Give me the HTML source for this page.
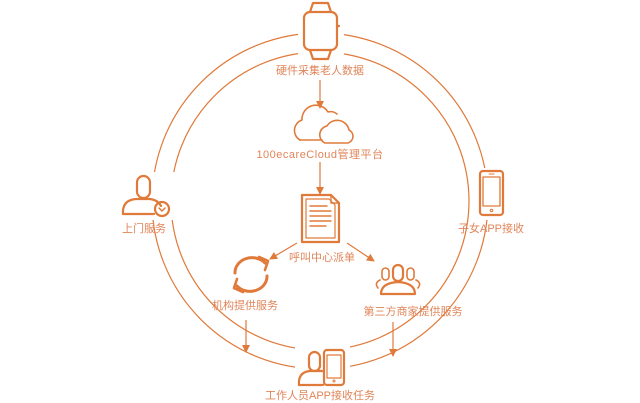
<!DOCTYPE html>
<html><head><meta charset="utf-8">
<style>
html,body{margin:0;padding:0;background:#fff;}
svg{display:block}
text{font-family:"Liberation Sans","Noto Sans CJK SC",sans-serif;font-size:11px;fill:#e0855a;}
</style></head><body>
<svg width="640" height="403" viewBox="0 0 640 403" xmlns="http://www.w3.org/2000/svg">
<defs>
<marker id="ah" markerWidth="8" markerHeight="8" refX="7" refY="4" orient="auto" markerUnits="userSpaceOnUse">
<path d="M0,0 L8,4 L0,8 Z" fill="#e07a3a"/>
</marker>
</defs>
<g fill="none" stroke="#e07a3a" stroke-width="1.2">
<circle cx="320" cy="201" r="168"/>
<circle cx="320" cy="201" r="149"/>
</g>
<g fill="#fff">
<rect x="298" y="0" width="46" height="62"/>
<rect x="115" y="172" width="66" height="48"/>
<rect x="474" y="168" width="34" height="52"/>
<rect x="295" y="345" width="55" height="44"/>
<rect x="250" y="387" width="140" height="16"/>
</g>
<g fill="none" stroke="#e07a3a" stroke-width="2.2" stroke-linejoin="round" stroke-linecap="round">
<path d="M310,12 L313,3 L328,3 L331,12"/>
<path d="M310,50 L313,59 L328,59 L331,50"/>
<rect x="304" y="12" width="33" height="38" rx="6"/>
<path d="M337,26 L339,26"/>
<path d="M300,140 a11,11 0 0 1 2,-20 a14,14 0 0 1 26,-8 a10,10 0 0 1 9,2" stroke-width="1.6"/>
<path d="M300,140 L322,140" stroke-width="1.6"/>
<path d="M325,143 a9,9 0 0 1 2,-17 a12,12 0 0 1 22,4 a7,7 0 0 1 -1,13 Z" stroke-width="1.6"/>
<path d="M302,195 L331,195 L339,203 L339,242 L302,242 Z"/>
<path d="M306,199 L329,199 L335,205 L335,238 L306,238 Z" stroke-width="1.2"/>
<path d="M331,195 L331,203 L339,203" stroke-width="1.4"/>
<path d="M310,206 L327,206 M310,211 L331,211 M310,216 L331,216 M310,221 L331,221 M310,226 L326,226" stroke-width="1.4"/>
<!-- refresh -->
<path d="M235,273 a17,15 0 0 1 30,-10" stroke-width="3"/>
<path d="M259,257 L268,261 L265,270" stroke-width="2.6"/>
<path d="M267,276 a17,15 0 0 1 -30,10" stroke-width="3"/>
<path d="M243,292 L234,288 L237,279" stroke-width="2.6"/>
<!-- group -->
<rect x="393" y="265" width="10" height="16" rx="5"/>
<path d="M381,294 Q381,283 398,282 Q415,283 415,294 Z"/>
<rect x="382" y="268" width="7" height="12" rx="3.5" stroke-width="1.6"/>
<rect x="407" y="268" width="7" height="12" rx="3.5" stroke-width="1.6"/>
<path d="M378,288 Q374,283 380,280" stroke-width="1.6"/>
<path d="M418,288 Q422,283 416,280" stroke-width="1.6"/>
<!-- left person -->
<rect x="137" y="176" width="13" height="22" rx="6.5"/>
<path d="M123,214 Q122,200 136,199 L150,199 Q158,200 161,206"/>
<path d="M123,214 L154,214"/>
<circle cx="162" cy="209" r="7"/>
<path d="M159,208 L162,211 L165,208" stroke-width="1.5"/>
<!-- right phone -->
<rect x="480" y="171" width="23" height="44" rx="3"/>
<rect x="483" y="177" width="17" height="29" stroke-width="1.3"/>
<circle cx="491.5" cy="210.5" r="1.3" stroke-width="1"/>
<path d="M489,174 L494,174" stroke-width="1"/>
<!-- bottom person + phone -->
<rect x="309" y="352" width="11" height="19" rx="5.5"/>
<path d="M299,385 Q298,372 310,371 L322,371"/>
<path d="M299,385 L323,385"/>
<rect x="324" y="350" width="20" height="35" rx="3"/>
<rect x="327" y="355" width="14" height="23" stroke-width="1.2"/>
<circle cx="334" cy="381" r="1" stroke-width="1"/>
</g>
<g stroke="#e07a3a" stroke-width="1.2" marker-end="url(#ah)">
<line x1="320" y1="80" x2="320" y2="108"/>
<line x1="320" y1="162" x2="320" y2="194"/>
<line x1="297" y1="243" x2="270" y2="259"/>
<line x1="347" y1="243" x2="374" y2="261"/>
<line x1="246" y1="320" x2="246" y2="352"/>
<line x1="393" y1="322" x2="393" y2="356"/>
</g>
<g text-anchor="middle">
<text x="320" y="74">硬件采集老人数据</text>
<text x="320" y="158" style="letter-spacing:0.5px">100ecareCloud管理平台</text>
<text x="322" y="261">呼叫中心派单</text>
<text x="245" y="309">机构提供服务</text>
<text x="413" y="315">第三方商家提供服务</text>
<text x="144" y="232">上门服务</text>
<text x="491" y="232">子女APP接收</text>
<text x="320" y="399">工作人员APP接收任务</text>
</g>
</svg>
</body></html>
